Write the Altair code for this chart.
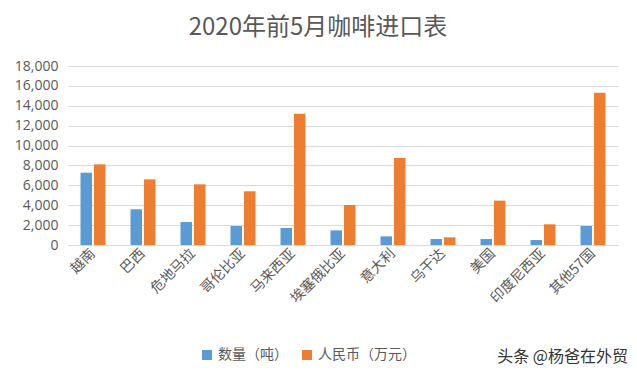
import altair as alt
import pandas as pd

countries = ["越南", "巴西", "危地马拉", "哥伦比亚", "马来西亚", "埃塞俄比亚",
             "意大利", "乌干达", "美国", "印度尼西亚", "其他57国"]
qty = [7270, 3590, 2310, 1910, 1710, 1470, 870, 600, 600, 500, 1910]
rmb = [8110, 6600, 6100, 5400, 13210, 4020, 8750, 770, 4460, 2080, 15320]
series = ["数量（吨）", "人民币（万元）"]
colors = ["#5B9BD5", "#ED7D31"]

rows = []
for c, q, r in zip(countries, qty, rmb):
    rows.append({"country": c, "series": series[0], "value": q})
    rows.append({"country": c, "series": series[1], "value": r})
df = pd.DataFrame(rows)

font = "Noto Sans CJK SC"

bars = alt.Chart(df).mark_bar().encode(
    x=alt.X("country:N", sort=countries, title=None,
            scale=alt.Scale(paddingInner=0.5, paddingOuter=0.25),
            axis=alt.Axis(labelAngle=-45, labelAlign="right", labelBaseline="middle",
                          labelFontSize=14, labelColor="#595959", labelFont=font,
                          labelPadding=6, ticks=False, domainColor="#D9D9D9",
                          labelOverlap=False)),
    xOffset=alt.XOffset("series:N", sort=series, scale=alt.Scale(paddingInner=0.15)),
    y=alt.Y("value:Q", title=None,
            scale=alt.Scale(domain=[0, 18000]),
            axis=alt.Axis(values=list(range(0, 18001, 2000)), format=",d",
                          labelFontSize=14, labelColor="#595959", labelFont="Open Sans",
                          labelPadding=10, ticks=False, domain=False,
                          gridColor="#D9D9D9", gridWidth=1.2)),
    color=alt.Color("series:N", sort=series,
                    scale=alt.Scale(domain=series, range=colors),
                    legend=alt.Legend(title=None, orient="none", direction="horizontal",
                                      legendX=132, legendY=282,
                                      symbolType="square", symbolSize=100,
                                      symbolStrokeWidth=0,
                                      labelFontSize=14, labelFont=font,
                                      labelColor="#595959", columnPadding=12)),
)

watermark = alt.Chart(pd.DataFrame({"t": ["头条 @杨爸在外贸"]})).mark_text(
    align="right", baseline="middle", fontSize=16, font=font, color="#333333"
).encode(text="t:N", x=alt.value(560), y=alt.value(291))

chart = alt.layer(bars, watermark).properties(
    width=550, height=179,
    title=alt.Title("2020年前5月咖啡进口表", fontSize=24, font=font, color="#595959",
                    fontWeight="normal", anchor="middle", dx=-25, offset=19),
    autosize=alt.AutoSizeParams(type="none"),
    padding={"left": 60, "top": 58, "right": 11, "bottom": 130},
).configure_view(stroke=None)

chart.save("out.html", embed_options={"renderer": "svg", "actions": False})
